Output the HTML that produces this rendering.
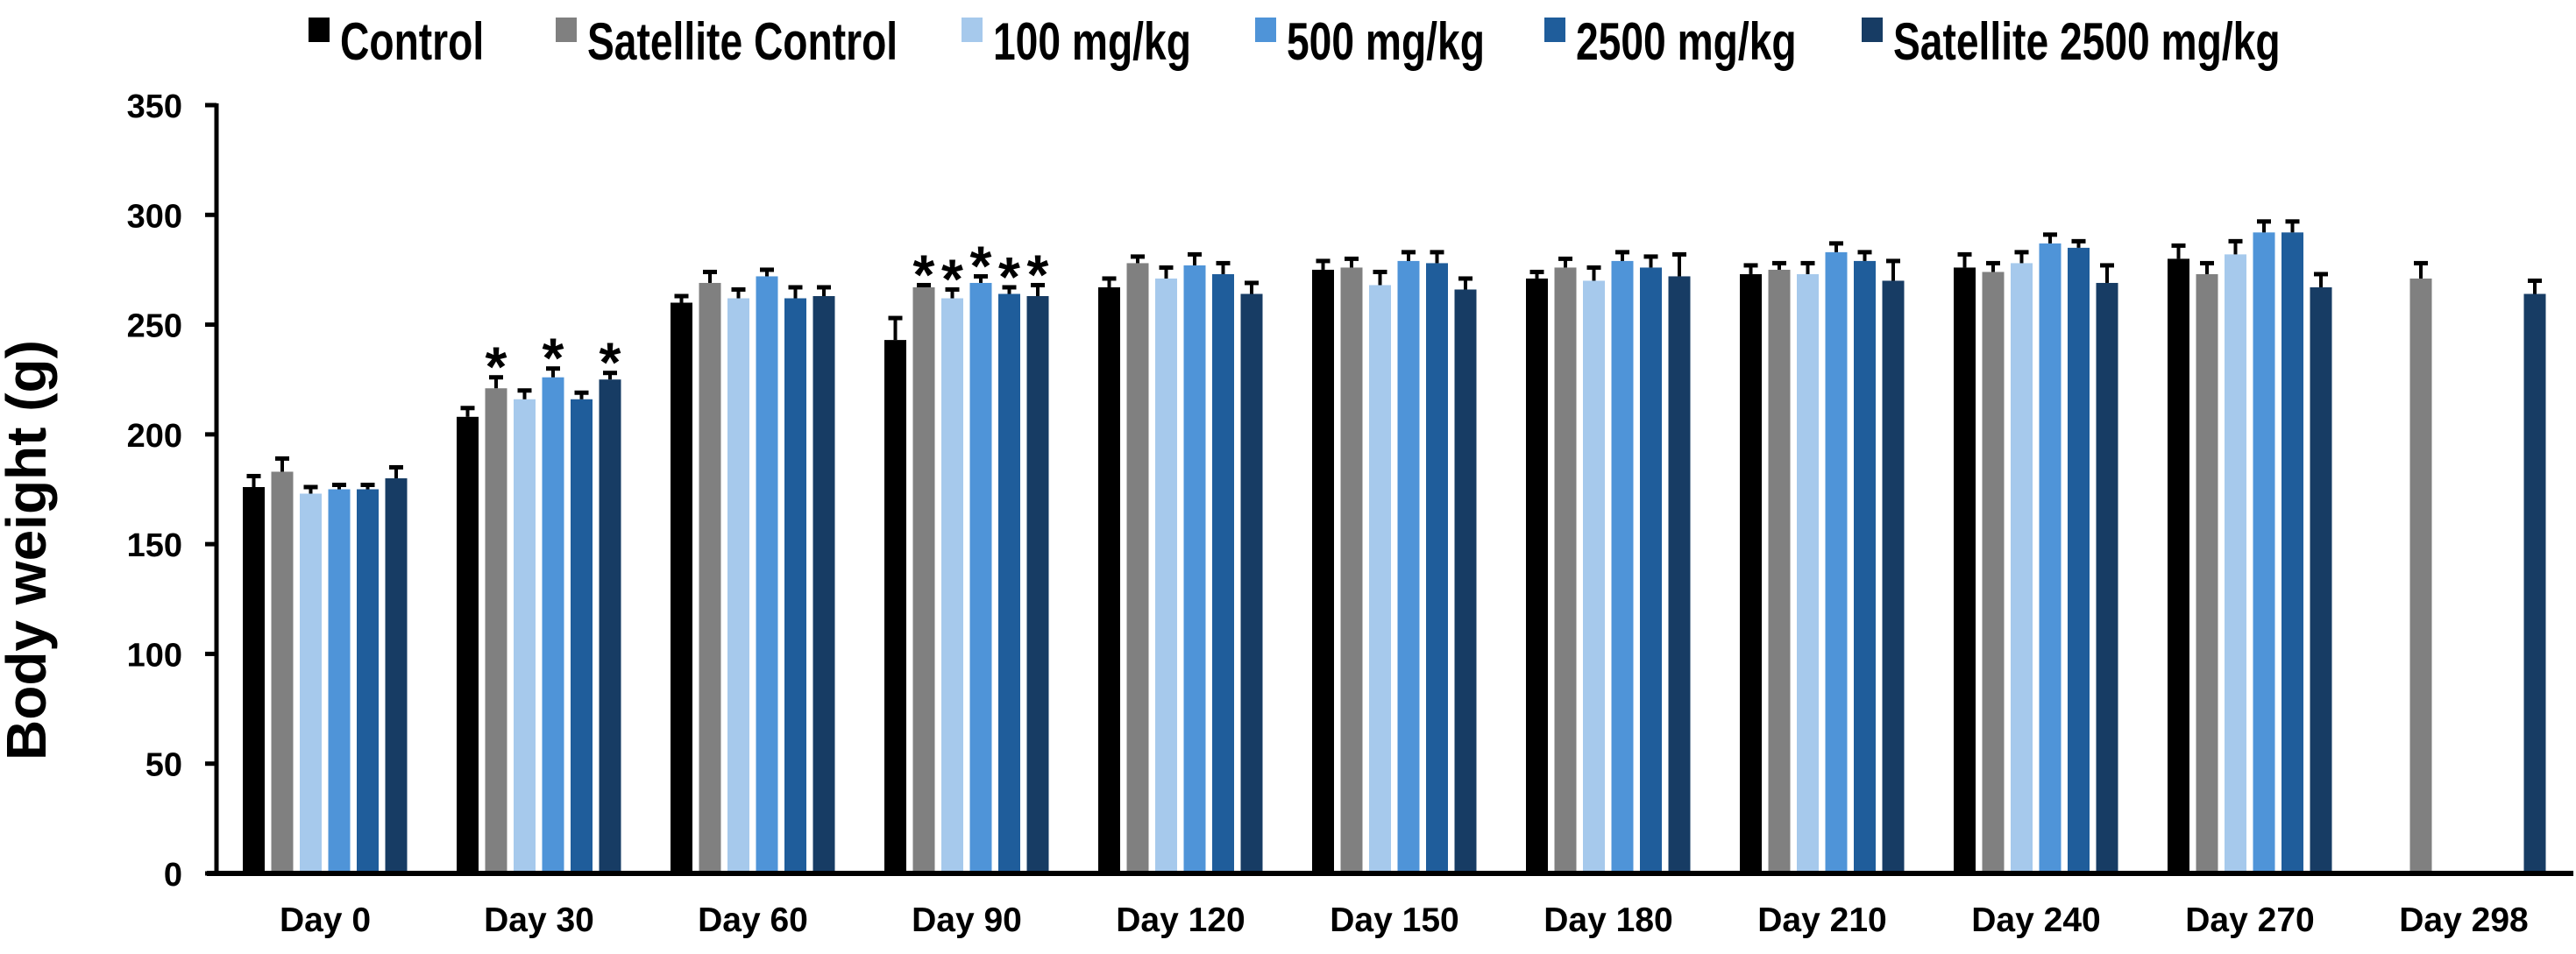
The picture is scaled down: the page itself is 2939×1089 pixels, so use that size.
<!DOCTYPE html>
<html><head><meta charset="utf-8"><style>
html,body{margin:0;padding:0;background:#fff;}
svg text{font-family:"Liberation Sans",Arial,sans-serif;font-weight:bold;fill:#000;}
</style></head><body>
<svg id="chart" width="2939" height="1084" viewBox="0 0 2939 1084" xmlns="http://www.w3.org/2000/svg">
<g id="legend"></g>
<g id="yaxis"></g>
<g id="bars"></g>
<g id="xaxis"></g>
<text x="0" y="0" font-size="64" text-anchor="middle" transform="translate(52,628) rotate(-90)">Body weight (g)</text>
</svg>
<script>
const categories = ["Day 0","Day 30","Day 60","Day 90","Day 120","Day 150","Day 180","Day 210","Day 240","Day 270","Day 298"];
const seriesNames = ["Control","Satellite Control","100 mg/kg","500 mg/kg","2500 mg/kg","Satellite 2500 mg/kg"];
const seriesColors = ["#000000","#808080","#a6c9ec","#4f94d8","#1f5d9b","#173c64"];
const controlVals = [176,208,260,243,267,275,271,273,276,280,null];
const satControlVals = [183,221,269,267,278,276,276,275,274,273,271];
const mg100Vals = [173,216,262,262,271,268,270,273,278,282,null];
const mg500Vals = [175,226,272,269,277,279,279,283,287,292,null];
const mg2500Vals = [175,216,262,264,273,278,276,279,285,292,null];
const sat2500Vals = [180,225,263,263,264,266,272,270,269,267,264];
const controlErr = [5,4,3,10,4,4,3,4,6,6,null];
const satControlErr = [6,5,5,1,3,4,4,3,4,5,7];
const mg100Err = [3,4,4,4,5,6,6,5,5,6,null];
const mg500Err = [2,4,3,3,5,4,4,4,4,5,null];
const mg2500Err = [2,3,5,3,5,5,5,4,3,5,null];
const sat2500Err = [5,3,4,5,5,5,10,9,8,6,6];
const yTicks = [0,50,100,150,200,250,300,350];
// significance stars: [categoryIndex, seriesIndex]
const starCats = [1,1,1,3,3,3,3,3];
const starSeries = [1,3,5,1,2,3,4,5];

const values=[controlVals,satControlVals,mg100Vals,mg500Vals,mg2500Vals,sat2500Vals];
const errs=[controlErr,satControlErr,mg100Err,mg500Err,mg2500Err,sat2500Err];
const NS="http://www.w3.org/2000/svg";
const y0=997, pxPerUnit=(997-120)/350;
const yScale=v=>y0-v*pxPerUnit;
const firstCenter=371, catStep=244, barPitch=32.5, barW=25;
const xScale=(ci,si)=>firstCenter+ci*catStep-94+si*barPitch;
function mk(tag,parent,attrs){const e=document.createElementNS(NS,tag);for(const k in attrs)e.setAttribute(k,attrs[k]);parent.appendChild(e);return e;}

// legend
const lg=document.getElementById('legend');
const legX=[352,634,1097,1432,1762,2124];
seriesNames.forEach((n,i)=>{
  const g=mk('g',lg,{});
  
  
  const r=mk('rect',g,{x:legX[i],y:20,width:24,height:28,fill:seriesColors[i]});
  
  
  const t=mk('text',g,{x:0,y:0,'font-size':60,transform:`translate(${legX[i]+36},68) scale(0.77,1)`});
  
  
  t.textContent=n;
});

// y axis
const ya=document.getElementById('yaxis');
const al=mk('line',ya,{x1:247,y1:118,x2:247,y2:999,stroke:'#000','stroke-width':5});


yTicks.forEach(v=>{
  const y=yScale(v);
  const tk=mk('line',ya,{x1:234,y1:y,x2:247,y2:y,stroke:'#000','stroke-width':5});
  
  
  const t=mk('text',ya,{x:208,y:y+14,'font-size':38,'text-anchor':'end'});
  
  
  t.textContent=v;
});

// bars
const bg=document.getElementById('bars');
values.forEach((arr,si)=>{
  arr.forEach((v,ci)=>{
    if(v==null)return;
    const x=xScale(ci,si), y=yScale(v);
    const r=mk('rect',bg,{x:x,y:y,width:barW,height:y0-y,fill:seriesColors[si]});
    
    
    const e=errs[si][ci];
    if(e!=null){
      const cx=x+barW/2, ey=yScale(v+e);
      const l=mk('line',bg,{x1:cx,y1:y,x2:cx,y2:ey,stroke:'#000','stroke-width':4});
      
      
      const c=mk('line',bg,{x1:cx-8,y1:ey,x2:cx+8,y2:ey,stroke:'#000','stroke-width':5});
      
      
    }
  });
});
starCats.forEach((ci,k)=>{
  const si=starSeries[k];
  const v=values[si][ci]+(errs[si][ci]||0);
  const t=mk('text',bg,{x:xScale(ci,si)+barW/2,y:yScale(v)+10,'font-size':64,'text-anchor':'middle'});
  
  
  t.textContent='*';
});

// x axis
const xa=document.getElementById('xaxis');
const xl=mk('line',xa,{x1:236,y1:y0,x2:2936,y2:y0,stroke:'#000','stroke-width':6});


categories.forEach((c,ci)=>{
  const t=mk('text',xa,{x:firstCenter+ci*catStep,y:1063,'font-size':39,'text-anchor':'middle'});
  
  
  t.textContent=c;
});
</script>
</body></html>
